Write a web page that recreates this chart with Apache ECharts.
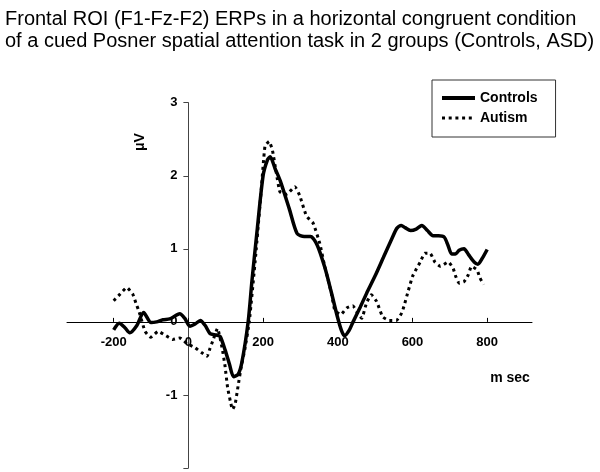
<!DOCTYPE html>
<html>
<head>
<meta charset="utf-8">
<script src="https://cdn.jsdelivr.net/npm/echarts@6/dist/echarts.min.js"></script>
<style>
html,body{margin:0;padding:0;background:#fff;}
#chart{width:600px;height:472px;}
</style>
</head>
<body>
<div id="chart"></div>
<script>
const titleLines = [
  'Frontal ROI (F1-Fz-F2) ERPs in a horizontal congruent condition',
  'of a cued Posner spatial attention task in 2 groups (Controls, ASD)'
];
const xTicks = [-200, 0, 200, 400, 600, 800];
const yTicks = [-1, 0, 1, 2, 3];

const controlsTime = [-200,-185,-170,-157,-138,-120,-100,-85,-68,-50,-23,-10,4,18,32,45,58,75,85,98,110,121,133,143,160,170,183,200,212,219,232,246,270,291,310,327,345,365,381,399,410,418,430,441,460,477,500,522,545,558,570,580,595,610,625,640,655,670,685,695,705,715,725,738,750,765,775,788,800];
const controlsUv   = [-0.11,-0.02,-0.08,-0.15,-0.05,0.13,-0.01,0.0,0.03,0.04,0.11,0.05,-0.06,-0.03,0.02,-0.05,-0.16,-0.18,-0.2,-0.38,-0.58,-0.75,-0.72,-0.56,0.0,0.55,1.2,2.0,2.22,2.26,2.1,1.93,1.55,1.21,1.17,1.17,1.05,0.75,0.44,0.07,-0.12,-0.19,-0.12,0.0,0.2,0.39,0.63,0.88,1.14,1.28,1.32,1.29,1.25,1.27,1.32,1.25,1.18,1.18,1.16,1.05,0.93,0.93,0.98,1.0,0.92,0.82,0.79,0.88,0.99];

const autismTime = [-200,-183,-165,-149,-140,-132,-116,-101,-81,-63,-42,-23,-3,17,35,50,58,66,78,90,98,105,113,118,125,133,142,151,163,180,195,205,216,225,235,245,258,267,285,298,316,334,352,365,383,392,408,424,440,453,464,477,490,504,520,538,557,571,577,589,600,611,621,633,647,660,675,696,709,716,725,738,749,758,773,780,790];
const autismUv   = [0.29,0.38,0.47,0.38,0.25,0.14,-0.13,-0.21,-0.13,-0.18,-0.24,-0.22,-0.30,-0.35,-0.42,-0.47,-0.36,-0.25,-0.09,-0.35,-0.6,-0.9,-1.1,-1.2,-1.13,-0.88,-0.6,-0.38,0.0,0.9,1.8,2.4,2.47,2.35,2.05,1.78,1.74,1.76,1.85,1.73,1.45,1.35,1.07,0.76,0.39,0.16,0.10,0.19,0.22,0.12,0.05,0.26,0.37,0.28,0.07,0.02,0.02,0.12,0.21,0.43,0.62,0.73,0.82,0.94,0.94,0.82,0.76,0.82,0.73,0.62,0.53,0.55,0.64,0.76,0.71,0.61,0.51];

const zip = (a, b) => a.map((v, i) => [v, b[i]]);
const FONT = '"Liberation Sans", Arial, sans-serif';

const W = 600, H = 472;
const gridLeft = 67, gridRight = 68, gridTop = 102.7, gridBottom = 4;
const xMin = -325, xMax = 920, yMin = -2, yMax = 3;
const gridW = W - gridLeft - gridRight, gridH = H - gridTop - gridBottom;
// shift the axes so that they cross at the origin (as in the original figure)
const xAxisOffset = -((0 - yMin) / (yMax - yMin)) * gridH;
const yAxisOffset = -((0 - xMin) / (xMax - xMin)) * gridW;

const chart = echarts.init(document.getElementById('chart'), null, {renderer: 'canvas'});
chart.setOption({
  animation: false,
  backgroundColor: '#fff',
  title: {
    text: titleLines.join('\n'),
    left: 5, top: 8, padding: 0,
    textStyle: {fontFamily: FONT, fontSize: 20, fontWeight: 'normal', color: '#000', lineHeight: 22}
  },
  legend: {
    orient: 'vertical',
    left: 432, top: 80,
    padding: [11, 18, 12, 8],
    itemGap: 6,
    itemWidth: 33, itemHeight: 16,
    borderColor: '#333', borderWidth: 1,
    backgroundColor: '#fff',
    itemStyle: {opacity: 0},
    textStyle: {fontFamily: FONT, fontSize: 14, fontWeight: 'bold', color: '#000'},
    data: [
      {name: 'Controls', lineStyle: {width: 4, type: 'solid', color: '#000'}},
      {name: 'Autism', lineStyle: {width: 3, type: [3, 3.7], color: '#000'}}
    ]
  },
  grid: {left: gridLeft, right: gridRight, top: gridTop, bottom: gridBottom, containLabel: false, outerBoundsMode: 'none'},
  xAxis: {
    type: 'value', min: xMin, max: xMax, position: 'bottom', offset: xAxisOffset,
    axisLine: {onZero: false, lineStyle: {color: '#000', width: 1}},
    axisTick: {show: true, inside: true, length: 4, customValues: xTicks, lineStyle: {color: '#000'}},
    axisLabel: {customValues: xTicks, margin: 14, fontFamily: FONT, fontSize: 13, fontWeight: 'bold', color: '#000'},
    splitLine: {show: false}
  },
  yAxis: {
    type: 'value', min: yMin, max: yMax, position: 'left', offset: yAxisOffset,
    axisLine: {show: true, onZero: false, lineStyle: {color: '#444', width: 1}},
    axisTick: {show: true, length: 5, customValues: [-2,-1,0,1,2,3], lineStyle: {color: '#444'}},
    axisLabel: {customValues: yTicks, margin: 11, fontFamily: FONT, fontSize: 13, fontWeight: 'bold', color: '#000'},
    splitLine: {show: false}
  },
  graphic: [
    {type: 'text', x: 140, y: 142, rotation: Math.PI / 2,
     style: {text: 'μV', fontFamily: FONT, fontSize: 14, fontWeight: 'bold', fill: '#000', align: 'center', verticalAlign: 'middle'}},
    {type: 'text', x: 510, y: 378,
     style: {text: 'm sec', fontFamily: FONT, fontSize: 14, fontWeight: 'bold', fill: '#000', align: 'center', verticalAlign: 'middle'}}
  ],
  series: [
    {name: 'Controls', type: 'line', data: zip(controlsTime, controlsUv), showSymbol: false, symbol: 'none', smooth: 0.25,
     lineStyle: {color: '#000', width: 3.5, type: 'solid'}, itemStyle: {color: '#000'}},
    {name: 'Autism', type: 'line', data: zip(autismTime, autismUv), showSymbol: false, symbol: 'none', smooth: 0.15,
     lineStyle: {color: '#000', width: 3, type: [3, 3.7]}, itemStyle: {color: '#000'}}
  ]
});
</script>
</body>
</html>
